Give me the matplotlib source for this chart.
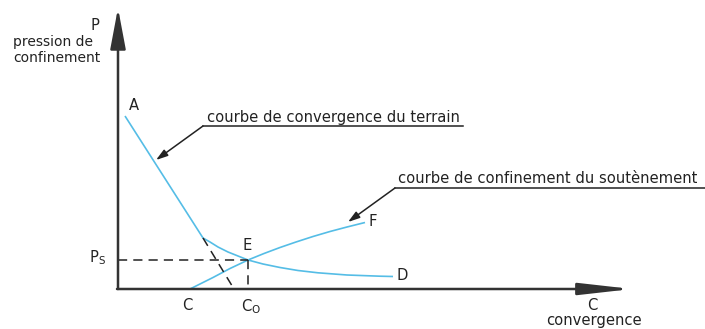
import matplotlib
matplotlib.use("Agg")
import matplotlib.pyplot as plt

# courbe de convergence du terrain (convergence, pression)
terrain_c = [7, 85, 92, 100, 110, 120, 130, 145, 162, 180, 200, 229, 262, 275]
terrain_p = [173, 51, 47, 42, 37, 33, 29, 25, 21.5, 18.5, 16.2, 14, 12.8, 12.5]

# courbe de confinement du soutenement
soutien_c = [72, 95, 112, 130, 146, 162, 178, 195, 212, 229, 247]
soutien_p = [0, 11.5, 20.5, 29, 35.5, 41.5, 47, 52.5, 57.5, 62, 66.5]

# prolongement de la partie elastique jusqu'a l'axe
elast_c = [85, 116]
elast_p = [51, 0]

# point d'equilibre E
ps = 29
c0 = 130

blue = "#55bde6"
ink = "#222222"
axe = "#333333"

fig = plt.figure(figsize=(7.05, 3.29), dpi=100)
ax = fig.add_axes([0, 0, 1, 1])
ax.set_xlim(-118, 587)
ax.set_ylim(-40, 289)
ax.axis("off")

# axes P et C avec fleches
ax.annotate("", xy=(0, 281), xytext=(0, 0),
            arrowprops=dict(arrowstyle="-|>,head_length=25,head_width=4.7",
                            mutation_scale=1, color=axe, lw=1.8,
                            shrinkA=0, shrinkB=0))
ax.annotate("", xy=(514, 0), xytext=(-1, 0),
            arrowprops=dict(arrowstyle="-|>,head_length=32,head_width=3.6",
                            mutation_scale=1, color=axe, lw=1.8,
                            shrinkA=0, shrinkB=0))

# courbes
ax.plot(terrain_c, terrain_p, color=blue, lw=1.2, solid_capstyle="butt",
        solid_joinstyle="round")
ax.plot(soutien_c, soutien_p, color=blue, lw=1.2, solid_capstyle="butt",
        solid_joinstyle="round")
ax.plot(elast_c, elast_p, color=ink, lw=1.1, dashes=(6, 4))
ax.plot([0, c0], [ps, ps], color=ink, lw=1.1, dashes=(6, 4))
ax.plot([c0, c0], [ps, 0], color=ink, lw=1.1, dashes=(6, 4))

# renvois vers les courbes
ax.plot([85, 345], [163, 163], color=ink, lw=1.1)
ax.annotate("", xy=(38, 129), xytext=(85, 163),
            arrowprops=dict(arrowstyle="-|>,head_length=7,head_width=2.2",
                            mutation_scale=1, color=ink, lw=1.1,
                            shrinkA=0, shrinkB=0))
ax.plot([277, 587], [101, 101], color=ink, lw=1.1)
ax.annotate("", xy=(230, 67), xytext=(277, 101),
            arrowprops=dict(arrowstyle="-|>,head_length=7,head_width=2.2",
                            mutation_scale=1, color=ink, lw=1.1,
                            shrinkA=0, shrinkB=0))

fs = 10.6
ax.text(-23, 263, "P", fontsize=fs, color=ink, ha="center", va="center")
ax.text(-105, 247, "pression de", fontsize=10, color=ink, ha="left", va="center")
ax.text(-105, 231, "confinement", fontsize=10, color=ink, ha="left", va="center")
ax.text(16, 183, "A", fontsize=fs, color=ink, ha="center", va="center")
ax.text(89, 167, "courbe de convergence du terrain", fontsize=fs, color=ink,
        ha="left", va="baseline")
ax.text(280, 106, "courbe de confinement du soutènement", fontsize=fs, color=ink,
        ha="left", va="baseline")
ax.text(255, 68, "F", fontsize=fs, color=ink, ha="center", va="center")
ax.text(284, 13, "D", fontsize=fs, color=ink, ha="center", va="center")
ax.text(129, 43, "E", fontsize=fs, color=ink, ha="center", va="center")
ax.text(69, -17, "C", fontsize=fs, color=ink, ha="center", va="center")
ax.text(133, -18, "C$_\\mathregular{O}$", fontsize=fs, color=ink, ha="center", va="center")
ax.text(-21, 31, "P$_\\mathregular{S}$", fontsize=fs, color=ink, ha="center", va="center")
ax.text(474, -17, "C", fontsize=fs, color=ink, ha="center", va="center")
ax.text(476, -32, "convergence", fontsize=fs, color=ink, ha="center", va="center")

fig.savefig("out.png", dpi=100)
